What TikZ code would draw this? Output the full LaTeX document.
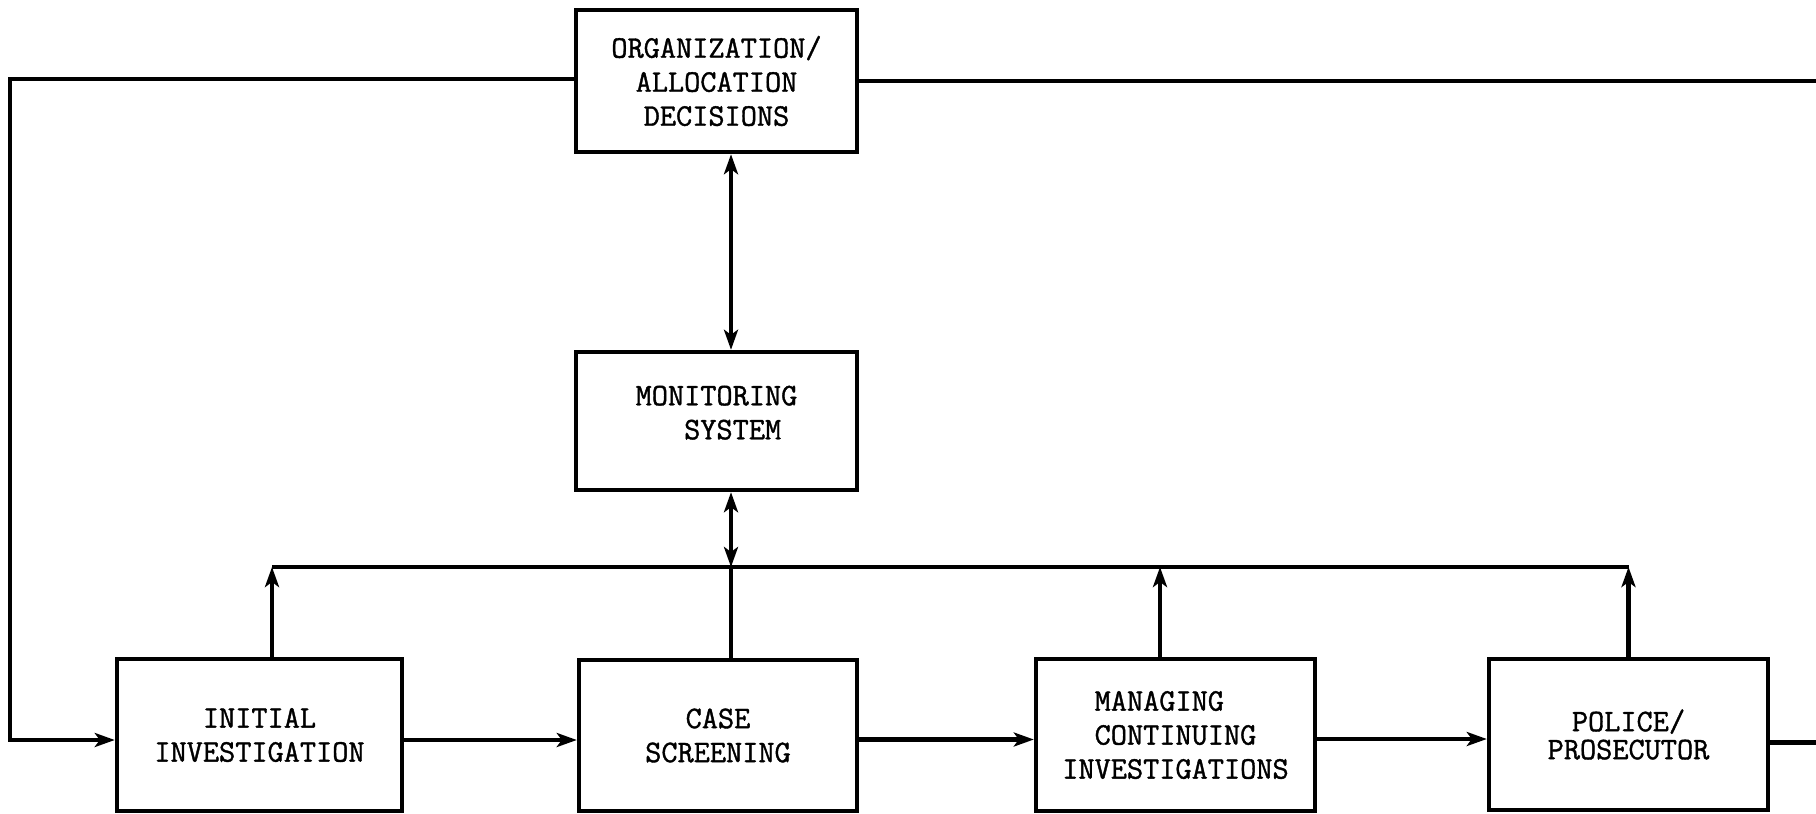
\documentclass[tikz,border=0pt]{standalone}
\usepackage{fontspec}
\newfontfamily\typew[FakeBold=1.2]{Latin Modern Mono}
\usetikzlibrary{arrows.meta}
\begin{document}
\begin{tikzpicture}[x=0.5pt,y=-0.5pt,
  box/.style={draw, line width=2.2pt, rectangle, inner sep=0pt,
    font=\typew\fontsize{15.7}{17}\selectfont, align=center},
  ln/.style={line width=2.2pt},
  tip/.tip={Stealth[length=10pt,width=7pt,inset=2.5pt]},
  arr/.style={ln, -tip},
  darr/.style={ln, tip-tip}]
\fill[white] (0,0) rectangle (1816,814);
\useasboundingbox (0,0) rectangle (1816,814);

\node[box, minimum width=140.5pt, minimum height=71pt] (org) at (716.5,81)
  {ORGANIZATION/\\ALLOCATION\\DECISIONS};
\node[box, align=left, minimum width=140.5pt, minimum height=69pt] (mon) at (716.5,421)
  {MONITORING\\\phantom{MON}SYSTEM\\[-8.5pt]\mbox{}};
\node[box, minimum width=142.5pt, minimum height=76pt] (init) at (259.5,735)
  {INITIAL\\INVESTIGATION};
\node[box, minimum width=139pt, minimum height=75.5pt] (case) at (718,735.5)
  {CASE\\SCREENING};
\node[box, align=left, minimum width=139.5pt, minimum height=76pt] (man) at (1175.5,735)
  {\phantom{IN}MANAGING\\\phantom{IN}CONTINUING\\INVESTIGATIONS};
\node[box, minimum width=139.5pt, minimum height=75.5pt,
  font=\typew\fontsize{15.7}{14}\selectfont] (pol) at (1628.5,734.5)
  {POLICE/\\PROSECUTOR};

\coordinate (lx) at (10,0);
\coordinate (rx) at (1816,0);
\coordinate (bus) at (0,567);

% feedback loop from decisions
\coordinate (ow) at ([yshift=1pt]org.west);
\coordinate (iw) at ([yshift=-2.5pt]init.west);
\draw[arr] (ow) -- (ow -| lx) -- (iw -| lx) -- (iw);
\draw[ln] (org.east) -- (org.east -| rx);

% main flow
\coordinate (ie) at ([yshift=-2.5pt]init.east);
\draw[arr] (ie) -- (ie -| case.west);
\coordinate (ce) at ([yshift=-2pt]case.east);
\draw[arr] (ce) -- (ce -| man.west);
\coordinate (me) at ([yshift=-2pt]man.east);
\draw[arr] (me) -- (me -| pol.west);
\coordinate (pe) at ([yshift=-4pt]pol.east);
\draw[ln] (pe) -- (pe -| rx);

% risers and bus
\coordinate (ir) at ([xshift=6.25pt]init.north);
\coordinate (cr) at ([xshift=6.5pt]case.north);
\coordinate (mr) at ([xshift=-7.75pt]man.north);
\draw[ln] (ir |- bus) -- (pol.north |- bus);
\draw[arr] (ir) -- (ir |- bus);
\draw[ln] (cr) -- (cr |- bus);
\draw[arr] (mr) -- (mr |- bus);
\draw[arr] (pol.north) -- (pol.north |- bus);

% monitoring links
\coordinate (ms) at ([xshift=7.25pt]mon.south);
\draw[darr] (ms) -- (ms |- bus);
\coordinate (os) at ([xshift=7.25pt]org.south);
\draw[darr] (os) -- (os |- mon.north);
\end{tikzpicture}
\end{document}
